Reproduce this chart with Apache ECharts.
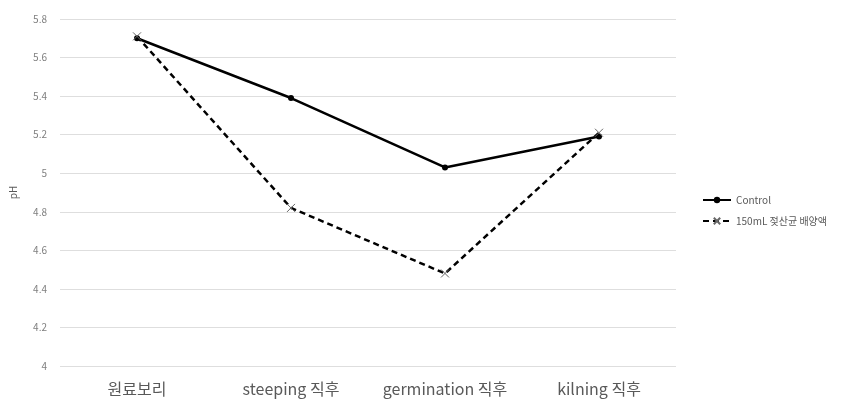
<!DOCTYPE html>
<html><head><meta charset="utf-8">
<script src="https://cdn.jsdelivr.net/npm/echarts@6/dist/echarts.min.js"></script>
<style>html,body{margin:0;padding:0;background:#fff}#c{width:854px;height:410px}</style>
</head><body><div id="c"></div>
<script>
const categories = ['원료보리', 'steeping 직후', 'germination 직후', 'kilning 직후'];
const controlValues = [5.70, 5.39, 5.03, 5.19];
const treatValues = [5.71, 4.82, 4.48, 5.21];
const seriesNames = ['Control', '150mL 젖산균 배양액'];
const yTicks = { min: 4, max: 5.8, interval: 0.2 };

const font = '"Noto Sans CJK KR", "Noto Sans", sans-serif';
const chart = echarts.init(document.getElementById('c'));
chart.setOption({
  animation: false,
  backgroundColor: '#fff',
  textStyle: { fontFamily: font },
  grid: { left: 60, right: 178, top: 19, bottom: 44 },
  legend: {
    orient: 'vertical', left: 697, top: 190, itemGap: 11,
    itemWidth: 28, itemHeight: 8,
    textStyle: { fontSize: 10, color: '#595959', fontFamily: font },
    data: seriesNames
  },
  xAxis: {
    type: 'category', data: categories, boundaryGap: true,
    axisLine: { show: false }, axisTick: { show: false },
    axisLabel: { fontSize: 16, color: '#595959', margin: 15, interval: 0, hideOverlap: false, fontFamily: font }
  },
  yAxis: {
    type: 'value', min: yTicks.min, max: yTicks.max, interval: yTicks.interval,
    name: 'pH', nameLocation: 'middle', nameGap: 42, nameRotate: 90,
    nameTextStyle: { fontSize: 10, color: '#595959' },
    axisLine: { show: false }, axisTick: { show: false },
    axisLabel: { fontSize: 10, color: '#7f7f7f', margin: 13,
      formatter: v => String(Math.round(v * 10) / 10) },
    splitLine: { lineStyle: { color: '#dedede', width: 1 } }
  },
  series: [
    {
      name: seriesNames[0], type: 'line', data: controlValues,
      symbol: 'circle', symbolSize: 6,
      lineStyle: { color: '#000', width: 2.5 },
      itemStyle: { color: '#000' }
    },
    {
      name: seriesNames[1], type: 'line', data: treatValues,
      symbol: 'path://M0,0L10,10M10,0L0,10', symbolSize: 8,
      lineStyle: { color: '#000', width: 2.5, type: [6, 4] },
      itemStyle: { color: 'rgba(0,0,0,0)', borderColor: '#666', borderWidth: 1 }
    }
  ]
});
</script></body></html>
